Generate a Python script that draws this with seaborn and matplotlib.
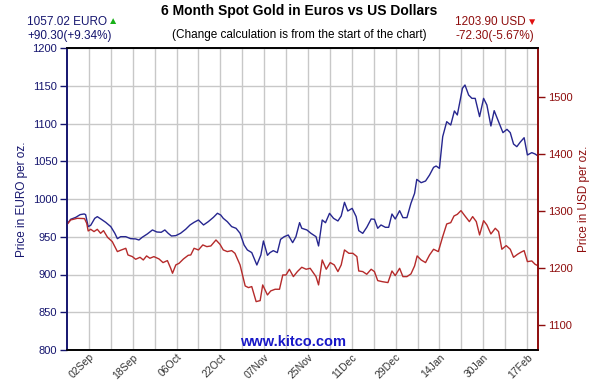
import matplotlib
matplotlib.use("Agg")
import matplotlib.pyplot as plt
import seaborn as sns
import pandas as pd

# ---- data (x = trading-day position from chart start) ----
eur_day = [0, 1.0, 2.4, 3.6, 4.7, 5.1, 5.8, 6.5, 7.6, 8.3, 9.4, 10.6, 12.0, 13.1, 13.8, 14.7,
           16.1, 17.4, 18.8, 19.7, 20.6, 22.0, 23.4, 24.6, 25.8, 26.8, 27.7, 28.6, 29.8, 31.1,
           32.5, 33.7, 34.8, 36.0, 37.4, 38.7, 40.1, 41.2, 42.1, 42.8, 43.9, 45.1, 46.3, 47.4,
           48.5, 49.4, 50.6, 52.0, 53.1, 53.8, 54.9, 55.6, 56.5, 57.6, 58.5, 59.5, 60.6, 61.8,
           62.7, 63.7, 64.3, 65.7, 66.8, 68.2, 68.9, 69.9, 70.8, 71.9, 73.0, 74.2, 75.1, 76.0,
           76.9, 78.1, 79.2, 79.9, 81.0, 82.1, 83.3, 84.2, 85.1, 86.0, 87.2, 88.1, 89.0, 89.9,
           91.1, 92.0, 93.1, 94.2, 95.2, 95.8, 97.0, 98.2, 99.3, 100.4, 101.1, 102.0, 102.9,
           104.0, 105.1, 106.1, 106.9, 107.7, 108.3, 109.0, 110.0, 110.9, 111.8, 113.0, 114.1,
           115.0, 116.1, 117.0, 118.2, 119.4, 120.5, 121.4, 122.3, 123.2, 124.1, 125.2, 126.1,
           127.3, 128.2, 129.0]
eur_price = [966.7, 973.1, 975.7, 979.3, 980.2, 979.3, 963.4, 965.2, 974.4, 976.6, 973.1, 969.1,
             963.4, 954.6, 947.5, 950.1, 950.1, 947.5, 947.1, 945.7, 949.3, 953.7, 959.0, 956.3,
             955.9, 959.0, 954.6, 951.0, 951.5, 954.6, 959.9, 965.6, 969.1, 972.2, 965.6, 970.0,
             975.7, 981.1, 978.8, 974.4, 970.0, 963.4, 961.2, 954.6, 939.1, 932.5, 929.0, 912.6,
             925.9, 944.4, 925.4, 929.0, 931.6, 929.0, 946.6, 950.1, 952.3, 942.2, 950.1, 968.7,
             961.2, 959.0, 954.6, 950.1, 937.8, 972.2, 968.6, 981.0, 974.4, 970.9, 977.5, 995.6,
             984.1, 987.6, 976.6, 958.1, 954.5, 962.5, 973.5, 973.1, 961.2, 965.6, 962.5, 962.5,
             980.1, 973.5, 984.5, 975.3, 975.3, 994.3, 1007.5, 1026.0, 1021.6, 1023.8, 1031.8,
             1041.9, 1043.7, 1040.6, 1082.6, 1102.4, 1098.0, 1116.6, 1111.3, 1131.1, 1146.6,
             1151.0, 1137.7, 1133.3, 1133.3, 1109.1, 1133.3, 1124.5, 1096.7, 1117.0, 1102.4,
             1087.9, 1092.3, 1087.9, 1072.8, 1069.3, 1075.1, 1081.2, 1058.3, 1061.4, 1059.6,
             1057.02]

usd_day = [0, 1.0, 2.8, 4.8, 5.4, 5.8, 6.5, 7.4, 8.3, 9.2, 10.0, 11.1, 12.4, 13.8, 14.9, 16.1,
           16.7, 17.9, 18.8, 20.0, 20.9, 21.8, 22.7, 23.8, 25.2, 26.3, 27.5, 28.4, 28.9, 29.8,
           30.7, 31.9, 33.2, 33.9, 34.8, 36.0, 37.2, 38.3, 39.4, 40.8, 41.9, 42.8, 43.9, 45.1,
           46.0, 47.4, 48.8, 49.7, 50.6, 51.8, 52.9, 53.6, 54.9, 55.8, 57.0, 58.2, 59.1, 60.0,
           60.9, 62.0, 63.1, 64.3, 65.5, 66.6, 68.2, 68.9, 69.9, 71.0, 72.1, 73.2, 74.2, 75.1,
           76.0, 77.2, 78.3, 79.4, 79.9, 81.0, 82.1, 83.3, 84.2, 85.1, 86.3, 87.9, 89.0, 89.9,
           91.1, 92.0, 93.1, 94.2, 95.2, 95.9, 97.0, 98.2, 99.3, 100.4, 101.7, 102.9, 104.0,
           105.1, 106.0, 106.9, 107.9, 109.0, 110.2, 111.1, 112.1, 113.0, 114.1, 115.0, 116.1,
           117.3, 118.2, 119.1, 120.3, 121.4, 122.3, 123.4, 124.3, 125.2, 126.1, 127.3, 128.2,
           129.0]
usd_price = [1276.2, 1284.2, 1287.1, 1286.6, 1278.4, 1264.9, 1267.8, 1263.8, 1267.8, 1260.8,
             1265.5, 1253.8, 1246.2, 1228.7, 1231.6, 1234.5, 1222.8, 1219.9, 1215.2, 1218.7,
             1214.0, 1221.1, 1217.0, 1219.9, 1215.8, 1209.4, 1212.9, 1199.4, 1190.7, 1205.3,
             1208.2, 1215.8, 1222.2, 1222.8, 1234.5, 1231.6, 1240.4, 1237.4, 1238.6, 1249.1,
             1241.5, 1231.6, 1228.7, 1230.4, 1225.7, 1205.3, 1168.4, 1165.5, 1167.3, 1140.9,
             1142.7, 1170.2, 1152.6, 1159.7, 1162.6, 1162.6, 1187.7, 1187.7, 1197.7, 1184.8,
             1193.6, 1201.2, 1197.7, 1199.4, 1184.8, 1170.2, 1214.0, 1197.7, 1209.4, 1205.3,
             1193.6, 1205.3, 1231.6, 1225.7, 1225.7, 1219.9, 1194.7, 1193.6, 1188.9, 1197.7,
             1193.6, 1177.8, 1176.0, 1174.3, 1194.7, 1186.5, 1199.4, 1184.8, 1184.8, 1189.5,
             1203.5, 1221.1, 1214.0, 1209.4, 1222.8, 1232.8, 1228.7, 1255.0, 1277.2, 1279.5,
             1291.2, 1294.1, 1300.6, 1291.2, 1281.3, 1290.1, 1281.3, 1257.9, 1283.0, 1275.4,
             1259.6, 1269.6, 1263.8, 1232.8, 1239.2, 1232.8, 1218.7, 1224.0, 1227.5, 1230.4,
             1211.1, 1212.3, 1206.4, 1203.9]

tick_days = [6, 18, 30, 42, 54, 66, 78, 90, 102, 114, 126]
tick_labels = ["02Sep", "18Sep", "06Oct", "22Oct", "07Nov", "25Nov", "11Dec",
               "29Dec", "14Jan", "30Jan", "17Feb"]
grid_days = [12, 24, 36, 48, 60, 72, 84, 96, 108, 120]
eur_ticks = [800, 850, 900, 950, 1000, 1050, 1100, 1150, 1200]
usd_ticks = [1100, 1200, 1300, 1400, 1500]

eur_last, eur_chg, eur_pct = 1057.02, 90.30, 9.34
usd_last, usd_chg, usd_pct = 1203.90, -72.30, -5.67

# ---- style ----
sns.set_style("white")
plt.rcParams["font.family"] = ["Liberation Sans", "DejaVu Sans"]

NAVY = "#15156e"
BLUE_LINE = "#26268f"
DRED = "#8e0d0d"
RED_LINE = "#b52a2a"
GRID = "#c8c8c8"

fig = plt.figure(figsize=(5.99, 3.80), dpi=100)
ax = fig.add_axes([67 / 599, 1 - 350 / 380, (538 - 67) / 599, (350 - 48) / 380])
ax2 = ax.twinx()

df_eur = pd.DataFrame({"day": eur_day, "price": eur_price})
df_usd = pd.DataFrame({"day": usd_day, "price": usd_price})

sns.lineplot(data=df_eur, x="day", y="price", ax=ax, color=BLUE_LINE, linewidth=1.0,
             estimator=None, sort=False)
sns.lineplot(data=df_usd, x="day", y="price", ax=ax2, color=RED_LINE, linewidth=1.0,
             estimator=None, sort=False)

ax.set_xlim(0, 129)
ax.set_ylim(800, 1200)
ax2.set_ylim(1056, 1586)

ax.set_xticks(tick_days)
ax.set_xticklabels(tick_labels, rotation=45, ha="right", rotation_mode="anchor",
                   fontsize=7.5, color="#333333")
ax.set_xticks(grid_days, minor=True)
ax.tick_params(axis="x", which="both", length=0, pad=1.5)
ax.xaxis.grid(True, which="both", color=GRID, linewidth=1.0)

ax.set_yticks(eur_ticks)
ax.set_yticklabels([str(t) for t in eur_ticks], fontsize=8, color=NAVY)
ax.tick_params(axis="y", length=5, width=1, color=NAVY, pad=2, direction="out", left=True)
ax.yaxis.grid(True, color=GRID, linewidth=1.0)
ax.set_axisbelow(True)

ax2.set_yticks(usd_ticks)
ax2.set_yticklabels([str(t) for t in usd_ticks], fontsize=8, color=DRED)
ax2.tick_params(axis="y", length=5, width=1, color=DRED, pad=2, direction="out", right=True)
ax2.grid(False)

ax.set_xlabel("")
ax.set_ylabel("Price in EURO per oz.", color=NAVY, fontsize=8.5)
ax.yaxis.set_label_coords((28 - 67) / 471, 0.5)
ax2.set_xlabel("")
ax2.set_ylabel("Price in USD per oz.", color=DRED, fontsize=8.5, rotation=90)
ax2.yaxis.set_label_coords((578 - 67) / 471, 0.5)

for a in (ax, ax2):
    a.spines["top"].set_color("black")
    a.spines["bottom"].set_color("black")
    a.spines["left"].set_color(NAVY)
    a.spines["right"].set_color(DRED)
    for s in a.spines.values():
        s.set_linewidth(1.2)
        s.set_visible(True)

# ---- texts ----
fig.text(0.5, 1 - 11 / 380, "6 Month Spot Gold in Euros vs US Dollars", ha="center",
         va="center", fontsize=10, fontweight="bold", color="black")
fig.text(0.5, 1 - 35 / 380, "(Change calculation is from the start of the chart)",
         ha="center", va="center", fontsize=8.5, color="black")

fig.text(27 / 599, 1 - 22 / 380, f"{eur_last:.2f} EURO", ha="left", va="center",
         fontsize=8.5, color=NAVY)
fig.text(108 / 599, 1 - 21 / 380, "\u25B2", ha="left", va="center", fontsize=7.5,
         color="#18b018")
fig.text(27 / 599, 1 - 36 / 380, f"+{eur_chg:.2f}(+{eur_pct:.2f}%)", ha="left", va="center",
         fontsize=8.5, color=NAVY)

fig.text(455 / 599, 1 - 22 / 380, f"{usd_last:.2f} USD", ha="left", va="center",
         fontsize=8.5, color=DRED)
fig.text(527 / 599, 1 - 22 / 380, "\u25BC", ha="left", va="center", fontsize=7.5,
         color="#e01010")
fig.text(455 / 599, 1 - 36 / 380, f"{usd_chg:.2f}({usd_pct:.2f}%)", ha="left", va="center",
         fontsize=8.5, color=DRED)

fig.text(293 / 599, 1 - 342 / 380, "www.kitco.com", ha="center", va="center",
         fontsize=10.5, fontweight="bold", color="#1818c8")

fig.savefig("out.png", dpi=100, facecolor="white")
